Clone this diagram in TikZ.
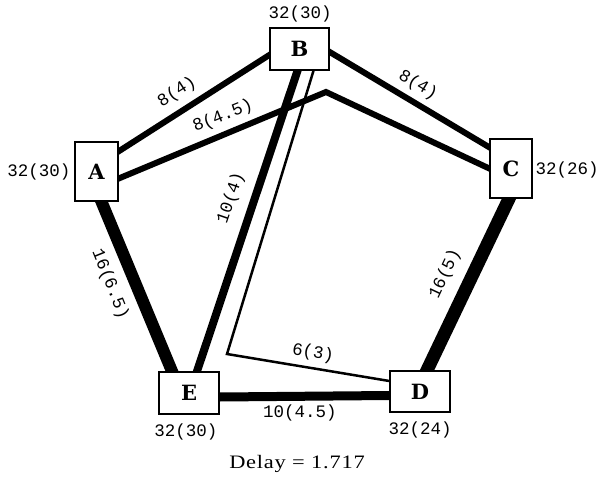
\documentclass[tikz,border=0pt]{standalone}
\usepackage{fontspec}
\setmonofont{Liberation Mono}
\newfontfamily\delayfont[FakeStretch=1.18,LetterSpace=4]{Liberation Serif}
\newfontfamily\boxfont{DejaVu Serif}
\usetikzlibrary{calc}
\pgfdeclarelayer{bg}
\pgfsetlayers{bg,main}
\begin{document}
\begin{tikzpicture}[x=1pt,y=1pt,
  box/.style={draw, line width=1.4pt, fill=white, inner sep=0pt,
    font=\boxfont\bfseries\fontsize{21}{21}\selectfont},
  lbl/.style={font=\ttfamily\fontsize{17.5}{17.5}\selectfont, inner sep=0pt},
  edge/.style={line width=#1, shorten <=-5pt, shorten >=-5pt}]
\useasboundingbox (0,0) rectangle (601,485);
\node[box, minimum width=43pt, minimum height=59pt] (A) at (96.5,313.5) {A};
\node[box, minimum width=59pt, minimum height=42pt] (B) at (299.5,436) {B};
\node[box, minimum width=42pt, minimum height=59pt] (C) at (511,316.5) {C};
\node[box, minimum width=60pt, minimum height=41pt] (D) at (420,93.5) {D};
\node[box, minimum width=60pt, minimum height=42pt] (E) at (189,92) {E};
\coordinate (bAC) at (326,393);
\coordinate (bBD) at (227,131);
\begin{pgfonlayer}{bg}
\draw[edge=6pt] ([yshift=-10pt]A.north east) -- ([yshift=-6pt]B.west);
\draw[edge=6pt] ([yshift=-7pt]A.east) -- (bAC) -- (C.west);
\draw[edge=6pt] ([yshift=-3pt]B.east) -- ([yshift=-9pt]C.north west);
\draw[edge=8pt] ([xshift=-2pt]B.south) -- ([xshift=8pt]E.north);
\draw[edge=2.5pt] ([xshift=14pt]B.south) -- (bBD) -- ([yshift=10.5pt]D.west);
\draw[edge=12pt] ([xshift=5pt]A.south) -- ([xshift=-17pt]E.north);
\draw[edge=13pt] ([xshift=-2pt]C.south) -- ([xshift=7pt]D.north);
\draw[edge=9pt] ([yshift=-4pt]E.east) -- ([yshift=-4pt]D.west);
\end{pgfonlayer}
\node[lbl, rotate=33] (lAB) at (177,393) {8(4)};
\node[lbl, rotate=22] (lAC) at (223,369) {8(4.5)};
\node[lbl, rotate=-31] (lBC) at (418,400) {8(4)};
\node[lbl, rotate=71] (lBE) at (231,287) {10(4)};
\node[lbl, rotate=-68] (lAE) at (110,201) {16(6.5)};
\node[lbl, rotate=65] (lCD) at (445,211) {16(5)};
\node[lbl, rotate=-9] (lBD) at (313,132) {6(3)};
\node[lbl] (lED) at (300,72) {10(4.5)};
\node[lbl] (cB) at (300,471) {32(30)};
\node[lbl] (cA) at (39,313) {32(30)};
\node[lbl] (cC) at (567,315) {32(26)};
\node[lbl] (cE) at (186,53) {32(30)};
\node[lbl] (cD) at (420,55) {32(24)};
\node[inner sep=0pt] (delay) at (297,21) {\delayfont\fontsize{19}{19}\selectfont Delay = 1.717};
\end{tikzpicture}
\end{document}
